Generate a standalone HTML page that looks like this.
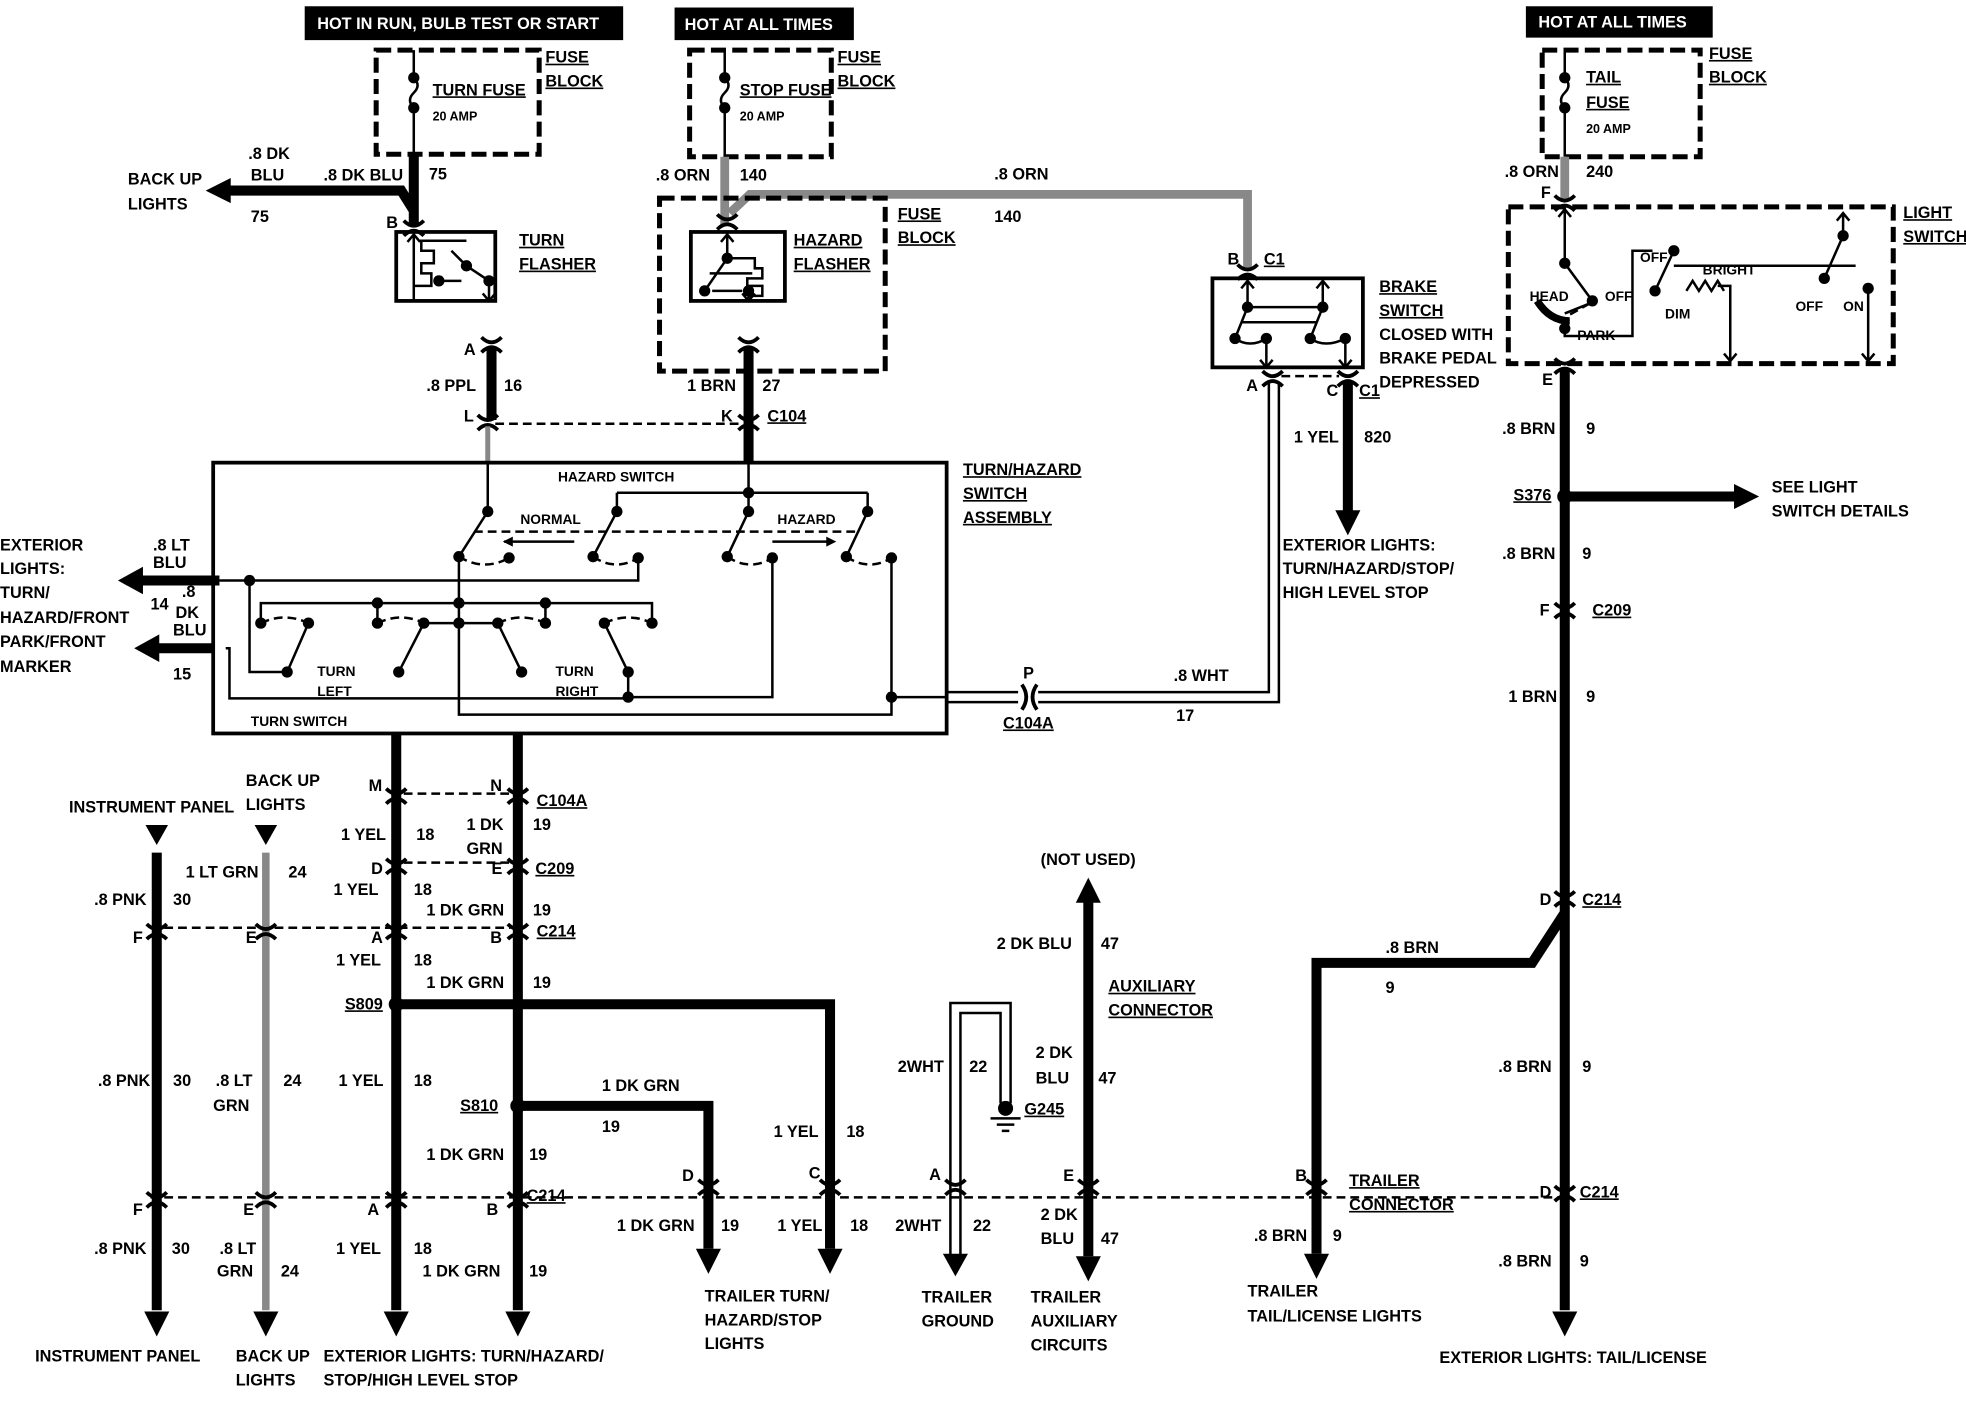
<!DOCTYPE html>
<html><head><meta charset="utf-8"><style>
html,body{margin:0;padding:0;background:#fff}
svg{display:block}
text{font-family:"Liberation Sans Narrow","Liberation Sans",sans-serif;font-weight:bold;font-size:13px;fill:#000}
.u{text-decoration:underline}
.th{stroke:#000;stroke-width:8;fill:none}
.tn{stroke:#000;stroke-width:2;fill:none}
.gr{stroke:#888;stroke-width:7;fill:none}
.ds{stroke:#000;stroke-width:2;fill:none;stroke-dasharray:7 4}
.db{stroke:#000;stroke-width:4;fill:none;stroke-dasharray:12 5}
</style></head><body>
<svg width="1966" height="1408" viewBox="0 0 1568 1123" xmlns="http://www.w3.org/2000/svg">
<defs>
<g id="c"><path d="M-8,-9 Q0,-1 8,-9 M-8,3 Q0,-5 8,3" stroke="#000" stroke-width="3" fill="none"/></g>
<g id="ad"><path d="M-10,-18 L10,-18 L0,2 Z" fill="#000"/></g>
<g id="d"><circle r="4.5" fill="#000"/></g>
</defs>

<!-- header boxes -->
<rect x="243" y="5" width="254" height="27" fill="#000"/>
<text x="253" y="23" style="fill:#fff">HOT IN RUN, BULB TEST OR START</text>
<rect x="538" y="6" width="143" height="26" fill="#000"/>
<text x="546" y="24" style="fill:#fff">HOT AT ALL TIMES</text>
<rect x="1217" y="5" width="149" height="25" fill="#000"/>
<text x="1227" y="22" style="fill:#fff">HOT AT ALL TIMES</text>

<!-- turn fuse -->
<rect x="300" y="40" width="130" height="83" class="db"/>
<path d="M330,40 V62 q6,6 0,12 q-6,6 0,12 V123" class="tn"/><use href="#d" x="330" y="62"/><use href="#d" x="330" y="86"/>
<text x="345" y="76" class="u">TURN FUSE</text><text x="345" y="96" style="font-size:10px">20 AMP</text>
<text x="435" y="50" class="u">FUSE</text><text x="435" y="69" class="u">BLOCK</text>
<path d="M330,123 V180 M330,168 L320,152 H180" class="th"/>
<path d="M184,142 L164,152 L184,162 Z"/>
<text x="198" y="127">.8 DK</text><text x="200" y="144">BLU</text><text x="258" y="144">.8 DK BLU</text><text x="342" y="143">75</text>
<text x="102" y="147">BACK UP</text><text x="102" y="167">LIGHTS</text><text x="200" y="177">75</text>
<use href="#c" x="330" y="185"/><text x="308" y="182">B</text>
<rect x="316" y="185" width="79" height="55" fill="none" stroke="#000" stroke-width="3"/>
<path d="M330,240 V187 M325,193 L330,187 335,193 M330,228 H344 V218 H336 V210 H346 V200 H336 V192 H372 M372,212 L390,224 V240 M385,234 L390,240 395,234 M352,224 H368 M372,212 L360,200" class="tn"/>
<use href="#d" x="372" y="212"/><use href="#d" x="350" y="224"/><use href="#d" x="390" y="224"/>
<text x="414" y="196" class="u">TURN</text><text x="414" y="215" class="u">FLASHER</text>
<use href="#c" x="392" y="278"/><text x="370" y="283">A</text>
<path d="M392,278 V335" class="th"/>
<text x="340" y="312">.8 PPL</text><text x="402" y="312">16</text>
<use href="#c" x="389" y="340"/><text x="370" y="336">L</text>
<path d="M389,340 V369" class="gr" style="stroke-width:4"/>

<!-- stop fuse -->
<rect x="550" y="40" width="113" height="85" class="db"/>
<path d="M578,40 V62 q6,6 0,12 q-6,6 0,12 V125" class="tn"/><use href="#d" x="578" y="62"/><use href="#d" x="578" y="86"/>
<text x="590" y="76" class="u">STOP FUSE</text><text x="590" y="96" style="font-size:10px">20 AMP</text>
<text x="668" y="50" class="u">FUSE</text><text x="668" y="69" class="u">BLOCK</text>
<path d="M578,125 V180 M582,170 L598,155 H995 V215" class="gr"/>
<text x="523" y="144">.8 ORN</text><text x="590" y="144">140</text>
<text x="793" y="143">.8 ORN</text><text x="793" y="177">140</text>
<rect x="526" y="158" width="180" height="138" class="db"/>
<text x="716" y="175" class="u">FUSE</text><text x="716" y="194" class="u">BLOCK</text>
<use href="#c" x="580" y="180"/>
<rect x="551" y="185" width="75" height="55" fill="none" stroke="#000" stroke-width="3"/>
<path d="M580,187 V206 M575,193 L580,187 585,193 M580,206 L562,232 M580,206 H602 V214 H608 V222 H596 V228 H608 V236 H598 M597,232 V240 M592,234 L597,240 602,234 M566,218 H600 M568,232 H592" class="tn"/>
<use href="#d" x="580" y="206"/><use href="#d" x="562" y="232"/><use href="#d" x="597" y="232"/>
<text x="633" y="196" class="u">HAZARD</text><text x="633" y="215" class="u">FLASHER</text>
<use href="#c" x="597" y="278"/>
<path d="M597,278 V369" class="th"/>
<text x="548" y="312">1 BRN</text><text x="608" y="312">27</text>
<use href="#c" x="597" y="340"/><text x="575" y="336">K</text><text x="612" y="336" class="u">C104</text>
<path d="M395,338 H590" class="ds"/>

<!-- brake switch -->
<use href="#c" x="995" y="220"/><text x="979" y="211">B</text><text x="1008" y="211" class="u">C1</text>
<rect x="967" y="222" width="120" height="71" fill="none" stroke="#000" stroke-width="3"/>
<path d="M995,224 V245 M990,230 L995,224 1000,230 M1055,224 V245 M1050,230 L1055,224 1060,230 M995,245 H1055 M995,245 L985,270 M1055,245 L1045,270 M990,257 H1050 M985,270 Q997,278 1010,270 M1045,270 Q1057,278 1073,270 M1010,270 V293 M1005,287 L1010,293 1015,287 M1073,270 V293 M1068,287 L1073,293 1078,287" class="tn"/>
<use href="#d" x="995" y="245"/><use href="#d" x="1055" y="245"/><use href="#d" x="985" y="270"/><use href="#d" x="1010" y="270"/><use href="#d" x="1045" y="270"/><use href="#d" x="1073" y="270"/>
<text x="1100" y="233" class="u">BRAKE</text><text x="1100" y="252" class="u">SWITCH</text><text x="1100" y="271">CLOSED WITH</text><text x="1100" y="290">BRAKE PEDAL</text><text x="1100" y="309">DEPRESSED</text>
<use href="#c" x="1015" y="305"/><text x="994" y="312">A</text>
<use href="#c" x="1075" y="305"/><text x="1058" y="316">C</text><text x="1084" y="316" class="u">C1</text>
<path d="M1022,300 H1068" class="ds"/>
<path d="M1012,305 V552 H828 M1020,305 V560 H828" class="tn"/>
<path d="M1075,305 V408" class="th"/><use href="#ad" x="1075" y="425"/>
<text x="1032" y="353">1 YEL</text><text x="1088" y="353">820</text>
<text x="1023" y="439">EXTERIOR LIGHTS:</text><text x="1023" y="458">TURN/HAZARD/STOP/</text><text x="1023" y="477">HIGH LEVEL STOP</text>
<path d="M755,552 H812 M755,560 H812" class="tn"/>
<path d="M815,546 Q822,556 815,566 M827,546 Q820,556 827,566" stroke="#000" stroke-width="3" fill="none"/>
<text x="816" y="541">P</text><text x="800" y="581" class="u">C104A</text>
<text x="936" y="543">.8 WHT</text><text x="938" y="575">17</text>

<!-- switch assembly -->
<rect x="170" y="369" width="585" height="216" fill="none" stroke="#000" stroke-width="3"/>
<text x="445" y="384" style="font-size:11px">HAZARD SWITCH</text>
<text x="415" y="418" style="font-size:11px">NORMAL</text><text x="620" y="418" style="font-size:11px">HAZARD</text>
<text x="253" y="539" style="font-size:11px">TURN</text><text x="253" y="555" style="font-size:11px">LEFT</text>
<text x="443" y="539" style="font-size:11px">TURN</text><text x="443" y="555" style="font-size:11px">RIGHT</text>
<text x="200" y="579" style="font-size:11px">TURN SWITCH</text>
<text x="768" y="379" class="u">TURN/HAZARD</text><text x="768" y="398" class="u">SWITCH</text><text x="768" y="417" class="u">ASSEMBLY</text>
<g class="tn">
<path d="M389,369 V408 L366,444 M597,369 V393 M492,393 H692 M492,393 V408 L473,444 M597,393 V408 L580,444 M692,393 V408 L675,444"/>
<path d="M378,424 H686" class="ds"/>
<path d="M458,432 H402 M616,432 H662"/>
<path d="M366,444 Q386,456 406,445 M473,444 Q491,456 509,445 M580,444 Q598,456 616,445 M675,444 Q693,456 711,445" class="ds"/>
<path d="M509,445 V463 H175 M199,463 V536 H229 L246,497"/>
<path d="M366,444 V570 H711 V445"/>
<path d="M208,497 V481 H520 V497 M301,481 V497 M435,481 V497 M338,497 H397"/>
<path d="M208,497 Q227,488 246,497 M301,497 Q320,488 338,497 M397,497 Q416,488 435,497 M482,497 Q501,488 520,497" class="ds"/>
<path d="M318,536 L338,497 M416,536 L397,497 M501,536 L482,497"/>
<path d="M501,536 V556 H616 V445 M180,517 H183 V557 H501"/>
<path d="M711,556 H755"/>
</g>
<path d="M401,432 l8,-4 v8 z M667,432 l-8,-4 v8 z"/>
<g fill="#000">
<use href="#d" x="389" y="408"/><use href="#d" x="366" y="444"/><use href="#d" x="406" y="445"/><use href="#d" x="597" y="393"/>
<use href="#d" x="492" y="408"/><use href="#d" x="473" y="444"/><use href="#d" x="509" y="445"/><use href="#d" x="597" y="408"/><use href="#d" x="580" y="444"/><use href="#d" x="616" y="445"/>
<use href="#d" x="692" y="408"/><use href="#d" x="675" y="444"/><use href="#d" x="711" y="445"/><use href="#d" x="199" y="463"/>
<use href="#d" x="301" y="481"/><use href="#d" x="366" y="481"/><use href="#d" x="435" y="481"/><use href="#d" x="366" y="497"/>
<use href="#d" x="208" y="497"/><use href="#d" x="246" y="497"/><use href="#d" x="301" y="497"/><use href="#d" x="338" y="497"/><use href="#d" x="397" y="497"/><use href="#d" x="435" y="497"/><use href="#d" x="482" y="497"/><use href="#d" x="520" y="497"/>
<use href="#d" x="229" y="536"/><use href="#d" x="318" y="536"/><use href="#d" x="416" y="536"/><use href="#d" x="501" y="536"/><use href="#d" x="501" y="556"/><use href="#d" x="711" y="556"/>
</g>
<path d="M175,463 H112 M170,517 H125" class="th"/>
<path d="M114,452 L94,463 L114,474 Z M127,506 L107,517 L127,528 Z"/>
<text x="0" y="439">EXTERIOR</text><text x="0" y="458">LIGHTS:</text><text x="0" y="477">TURN/</text><text x="0" y="497">HAZARD/FRONT</text><text x="0" y="516">PARK/FRONT</text><text x="0" y="536">MARKER</text>
<text x="122" y="439">.8 LT</text><text x="122" y="453">BLU</text><text x="120" y="486">14</text><text x="145" y="476">.8</text><text x="140" y="493">DK</text><text x="138" y="507">BLU</text><text x="138" y="542">15</text>

<!-- M / N wires -->
<path d="M316,585 V1045 M413,585 V1045" class="th"/>
<use href="#ad" x="316" y="1064"/><use href="#ad" x="413" y="1064"/>
<path d="M322,633 H407 M322,688 H407 M120,740 H407 M120,955 H1250" class="ds"/>
<use href="#c" x="316" y="638"/><use href="#c" x="413" y="638"/><text x="294" y="631">M</text><text x="391" y="631">N</text><text x="428" y="643" class="u">C104A</text>
<text x="272" y="670">1 YEL</text><text x="332" y="670">18</text><text x="372" y="662">1 DK</text><text x="372" y="681">GRN</text><text x="425" y="662">19</text>
<use href="#c" x="316" y="694"/><use href="#c" x="413" y="694"/><text x="296" y="697">D</text><text x="392" y="697">E</text><text x="427" y="697" class="u">C209</text>
<text x="266" y="714">1 YEL</text><text x="330" y="714">18</text><text x="340" y="730">1 DK GRN</text><text x="425" y="730">19</text>
<use href="#c" x="316" y="746"/><use href="#c" x="413" y="746"/><text x="296" y="752">A</text><text x="391" y="752">B</text><text x="428" y="747" class="u">C214</text>
<text x="268" y="770">1 YEL</text><text x="330" y="770">18</text><text x="340" y="788">1 DK GRN</text><text x="425" y="788">19</text>
<circle cx="316" cy="801" r="6"/><text x="275" y="805" class="u">S809</text>
<path d="M316,801 H662 V996" class="th"/><use href="#ad" x="662" y="1014"/>
<circle cx="413" cy="882" r="6"/><text x="367" y="886" class="u">S810</text>
<path d="M413,882 H565 V996" class="th"/><use href="#ad" x="565" y="1014"/>
<text x="270" y="866">1 YEL</text><text x="330" y="866">18</text>
<text x="480" y="870">1 DK GRN</text><text x="480" y="903">19</text>
<text x="340" y="925">1 DK GRN</text><text x="422" y="925">19</text>
<use href="#c" x="316" y="960"/><use href="#c" x="413" y="960"/><text x="293" y="969">A</text><text x="388" y="969">B</text><text x="420" y="958" class="u">C214</text>
<text x="268" y="1000">1 YEL</text><text x="330" y="1000">18</text><text x="337" y="1018">1 DK GRN</text><text x="422" y="1018">19</text>
<text x="258" y="1086">EXTERIOR LIGHTS:  TURN/HAZARD/</text><text x="258" y="1105">STOP/HIGH LEVEL STOP</text>
<text x="617" y="907">1 YEL</text><text x="675" y="907">18</text>
<use href="#c" x="565" y="950"/><use href="#c" x="662" y="950"/><text x="544" y="942">D</text><text x="645" y="940">C</text>
<text x="492" y="982">1 DK GRN</text><text x="575" y="982">19</text><text x="620" y="982">1 YEL</text><text x="678" y="982">18</text>
<text x="562" y="1038">TRAILER TURN/</text><text x="562" y="1057">HAZARD/STOP</text><text x="562" y="1076">LIGHTS</text>

<!-- instrument panel & backup -->
<path d="M116,658 h18 l-9,16 z M203,658 h18 l-9,16 z"/>
<path d="M125,680 V1045" class="th"/><use href="#ad" x="125" y="1064"/>
<path d="M212,680 V1045" class="gr" style="stroke-width:6"/><use href="#ad" x="212" y="1064"/>
<use href="#c" x="125" y="746"/><use href="#c" x="212" y="746"/><use href="#c" x="125" y="960"/><use href="#c" x="212" y="960"/>
<text x="55" y="648">INSTRUMENT PANEL</text><text x="196" y="627">BACK UP</text><text x="196" y="646">LIGHTS</text>
<text x="148" y="700">1 LT GRN</text><text x="230" y="700">24</text><text x="75" y="722">.8 PNK</text><text x="138" y="722">30</text>
<text x="106" y="752">F</text><text x="196" y="752">E</text>
<text x="78" y="866">.8 PNK</text><text x="138" y="866">30</text><text x="172" y="866">.8 LT</text><text x="170" y="886">GRN</text><text x="226" y="866">24</text>
<text x="106" y="969">F</text><text x="194" y="969">E</text>
<text x="75" y="1000">.8 PNK</text><text x="137" y="1000">30</text><text x="175" y="1000">.8 LT</text><text x="173" y="1018">GRN</text><text x="224" y="1018">24</text>
<text x="28" y="1086">INSTRUMENT PANEL</text><text x="188" y="1086">BACK UP</text><text x="188" y="1105">LIGHTS</text>

<!-- ground -->
<path d="M758,1002 V800 H806 V880 M766,1002 V808 H798 V880" class="tn"/>
<path d="M752,1000 h20 l-10,18 z"/>
<circle cx="802" cy="884" r="6"/><path d="M790,892 H814 M795,897 H809 M799,902 H805" class="tn"/>
<text x="817" y="889" class="u">G245</text>
<text x="716" y="855">2WHT</text><text x="773" y="855">22</text>
<use href="#c" x="762" y="950"/><text x="741" y="941">A</text>
<text x="714" y="982">2WHT</text><text x="776" y="982">22</text>
<text x="735" y="1039">TRAILER</text><text x="735" y="1058">GROUND</text>

<!-- auxiliary -->
<path d="M868,718 V1002" class="th"/>
<path d="M858,720 h20 l-10,-20 z"/><use href="#ad" x="868" y="1020"/>
<use href="#c" x="868" y="950"/><text x="848" y="942">E</text>
<text x="830" y="690">(NOT USED)</text><text x="795" y="757">2 DK BLU</text><text x="878" y="757">47</text>
<text x="884" y="791" class="u">AUXILIARY</text><text x="884" y="810" class="u">CONNECTOR</text>
<text x="826" y="844">2 DK</text><text x="826" y="864">BLU</text><text x="876" y="864">47</text>
<text x="830" y="973">2 DK</text><text x="830" y="992">BLU</text><text x="878" y="992">47</text>
<text x="822" y="1039">TRAILER</text><text x="822" y="1058">AUXILIARY</text><text x="822" y="1077">CIRCUITS</text>

<!-- right side tail -->
<rect x="1230" y="40" width="126" height="85" class="db"/>
<path d="M1248,40 V62 q6,6 0,12 q-6,6 0,12 V125" class="tn"/><use href="#d" x="1248" y="62"/><use href="#d" x="1248" y="86"/>
<text x="1265" y="66" class="u">TAIL</text><text x="1265" y="86" class="u">FUSE</text><text x="1265" y="106" style="font-size:10px">20 AMP</text>
<text x="1363" y="47" class="u">FUSE</text><text x="1363" y="66" class="u">BLOCK</text>
<path d="M1248,125 V160" class="gr"/>
<text x="1200" y="141">.8 ORN</text><text x="1265" y="141">240</text>
<use href="#c" x="1248" y="165"/><text x="1229" y="158">F</text>
<rect x="1203" y="165" width="307" height="125" class="db"/>
<text x="1518" y="174" class="u">LIGHT</text><text x="1518" y="193" class="u">SWITCH</text>
<g class="tn">
<path d="M1248,167 V210 L1270,240 M1243,173 L1248,167 1253,173 M1248,258 V268 H1302 V200 H1318 M1320,232 L1335,200 M1335,212 H1480 M1345,232 l5,-8 5,8 5,-8 5,8 5,-8 5,8 M1370,228 H1380 V288 M1375,282 L1380,288 1385,282 M1470,170 V188 L1455,222 M1465,176 L1470,170 1475,176 M1490,230 V288 M1485,282 L1490,288 1495,282 M1248,250 L1268,242" />
<path d="M1268,242 L1250,252" class="ds"/>
</g>
<path d="M1226,240 Q1236,256 1252,256" stroke="#000" stroke-width="6" fill="none"/>
<use href="#d" x="1248" y="210"/><use href="#d" x="1270" y="240"/><use href="#d" x="1248" y="262"/><use href="#d" x="1320" y="232"/><use href="#d" x="1335" y="200"/><use href="#d" x="1470" y="188"/><use href="#d" x="1455" y="222"/><use href="#d" x="1490" y="230"/>
<text x="1220" y="240" style="font-size:11px">HEAD</text><text x="1280" y="240" style="font-size:11px">OFF</text><text x="1258" y="271" style="font-size:11px">PARK</text>
<text x="1308" y="209" style="font-size:11px">OFF</text><text x="1358" y="219" style="font-size:11px">BRIGHT</text><text x="1328" y="254" style="font-size:11px">DIM</text>
<text x="1432" y="248" style="font-size:11px">OFF</text><text x="1470" y="248" style="font-size:11px">ON</text>
<use href="#c" x="1248" y="295"/><text x="1230" y="307">E</text>
<path d="M1248,295 V1045 M1248,728 L1222,768 H1050 V1000" class="th"/>
<use href="#ad" x="1248" y="1064"/><use href="#ad" x="1050" y="1018"/>
<circle cx="1248" cy="396" r="6"/><text x="1207" y="399" class="u">S376</text>
<path d="M1248,396 H1385" class="th"/><path d="M1383,386 L1403,396 L1383,406 Z"/>
<text x="1413" y="393">SEE LIGHT</text><text x="1413" y="412">SWITCH DETAILS</text>
<text x="1198" y="346">.8 BRN</text><text x="1265" y="346">9</text>
<text x="1198" y="446">.8 BRN</text><text x="1262" y="446">9</text>
<use href="#c" x="1248" y="490"/><text x="1228" y="491">F</text><text x="1270" y="491" class="u">C209</text>
<text x="1203" y="560">1 BRN</text><text x="1265" y="560">9</text>
<use href="#c" x="1248" y="720"/><text x="1228" y="722">D</text><text x="1262" y="722" class="u">C214</text>
<text x="1105" y="760">.8 BRN</text><text x="1105" y="792">9</text>
<text x="1195" y="855">.8 BRN</text><text x="1262" y="855">9</text>
<use href="#c" x="1248" y="955"/><text x="1228" y="955">D</text><text x="1260" y="955" class="u">C214</text>
<text x="1195" y="1010">.8 BRN</text><text x="1260" y="1010">9</text>
<text x="1148" y="1087">EXTERIOR LIGHTS: TAIL/LICENSE</text>
<use href="#c" x="1050" y="950"/><text x="1033" y="942">B</text>
<text x="1076" y="946" class="u">TRAILER</text><text x="1076" y="965" class="u">CONNECTOR</text>
<text x="1000" y="990">.8 BRN</text><text x="1063" y="990">9</text>
<text x="995" y="1034">TRAILER</text><text x="995" y="1054">TAIL/LICENSE LIGHTS</text>
</svg>
</body></html>
